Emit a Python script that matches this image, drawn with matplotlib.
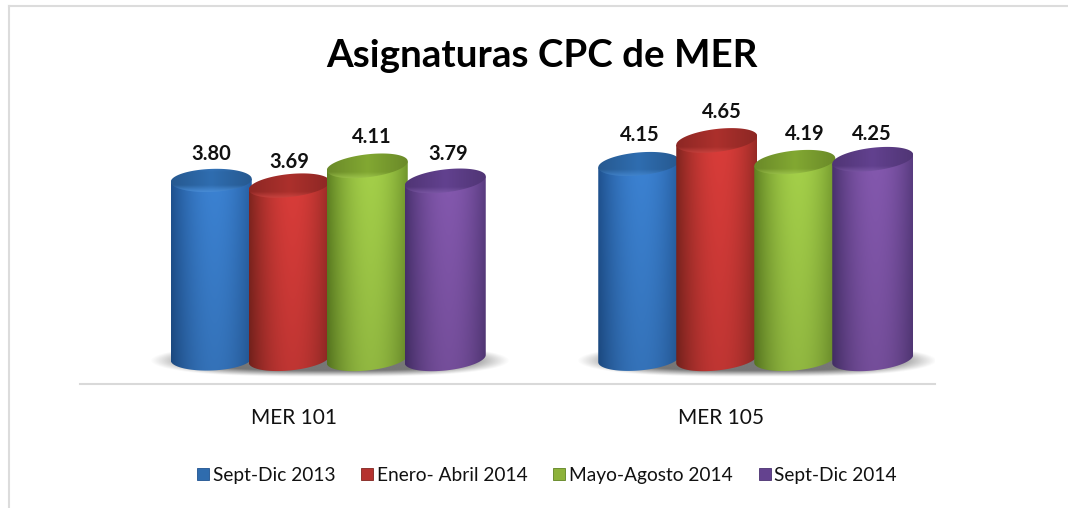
import numpy as np
import matplotlib
matplotlib.use("Agg")
import matplotlib.pyplot as plt
from matplotlib.lines import Line2D
from matplotlib.patches import Patch, Polygon

plt.rcParams['font.family'] = ['Lato', 'DejaVu Sans']

categories = ['MER 101', 'MER 105']
series_names = ['Sept-Dic 2013', 'Enero- Abril 2014', 'Mayo-Agosto 2014', 'Sept-Dic 2014']
sept_dic_2013 = [3.80, 4.15]
enero_abril_2014 = [3.69, 4.65]
mayo_agosto_2014 = [4.11, 4.19]
sept_dic_2014 = [3.79, 4.25]
series_values = [sept_dic_2013, enero_abril_2014, mayo_agosto_2014, sept_dic_2014]

bright = ['#3C83D4', '#DB3D3A', '#A6D24A', '#8559B0']
dark = ['#1F5290', '#80251F', '#5F8222', '#4A3270']
cap_col = ['#2F6DB0', '#AC302C', '#82A832', '#62418F']
rim_col = ['#4A8FDA', '#E0504C', '#B0D95C', '#8D66B6']
legend_col = ['#2F6CAE', '#B5322F', '#8DB23A', '#64428F']
tilt_px = [[3, 7], [8, 9], [9, 8], [9, 9]]
label_dx = [[0, 1], [0, 5], [5, 10], [3, -1]]
label_dy = [[26, 29], [24, 28], [29, 28], [27, 25]]

W, H = 1068, 508
fig = plt.figure(figsize=(W / 100, H / 100), dpi=100, facecolor='white')
L, R, B_PX, T_PX = 80, 935, 384, 60
ax = fig.add_axes([L / W, 1 - B_PX / H, (R - L) / W, (B_PX - T_PX) / H])
ax.set_facecolor('none')

PX_Y = 47.0
BASE_PX = 359
PX_X = (R - L) / 2.0

for s in ['top', 'left', 'right']:
    ax.spines[s].set_visible(False)
ax.spines['bottom'].set_color('#D9D9D9')
ax.spines['bottom'].set_linewidth(1.5)
ax.set_yticks([])
ax.set_xticks(range(len(categories)))
ax.set_xticklabels(categories, fontsize=15, color='#111111')
ax.tick_params(axis='x', length=0, pad=17)

bar_w = 78.0 / PX_X
group_off = 34.5 / PX_X
A_PX = 40.5
B_ELL = 11.5
a = A_PX / PX_X
b = B_ELL / PX_Y
t = np.linspace(0, 2 * np.pi, 120)


def ellipse(cx, cy, tilt):
    return np.column_stack([cx + a * np.cos(t),
                            cy + b * np.sin(t) + (tilt / 2 / PX_Y) * np.cos(t)])


# soft shadows on the floor
for i in range(len(categories)):
    cx = i + group_off + 0.004
    half = 180.0 / PX_X
    xs = np.linspace(-1, 1, 300)
    ys = np.linspace(-1, 1, 60)
    X, Y = np.meshgrid(xs, ys)
    r = (np.abs(X) ** 3 + np.abs(Y) ** 2) ** 0.5
    alpha = np.clip((1 - r) / 0.38, 0, 1) ** 1.1 * 0.8
    rgba = np.zeros(X.shape + (4,))
    rgba[..., :3] = 0.33
    rgba[..., 3] = alpha
    ax.imshow(rgba, extent=[cx - half, cx + half, -18 / PX_Y, 15 / PX_Y],
              aspect='auto', zorder=1, interpolation='bilinear')

for si, (vals, name) in enumerate(zip(series_values, series_names)):
    xs = np.arange(len(categories)) + group_off + (si - 1.5) * bar_w
    bars = ax.bar(xs, vals, width=2 * a, color=bright[si], label=name,
                  zorder=2 + 3 * si, linewidth=0)
    c0 = np.array(matplotlib.colors.to_rgb(dark[si]))
    c1 = np.array(matplotlib.colors.to_rgb(bright[si]))
    c2 = np.array(matplotlib.colors.to_rgb(cap_col[si]))
    c3 = np.array(matplotlib.colors.to_rgb(rim_col[si]))
    for ci, (x, v, bar) in enumerate(zip(xs, vals, bars)):
        tilt = tilt_px[si][ci]
        bar.set_visible(False)
        top = ellipse(x, v, tilt)
        tt = np.linspace(0, np.pi, 60)
        low = np.column_stack([x - a * np.cos(tt),
                               -b * np.sin(tt) - (tilt * 0.45 / PX_Y) * np.cos(tt)])
        high = np.column_stack([x + a * np.cos(tt),
                                v + (tilt / 2 / PX_Y) * np.cos(tt)])
        clip = Polygon(np.vstack([low, high]), closed=True, transform=ax.transData,
                       facecolor='none', edgecolor='none')
        ax.add_patch(clip)
        # shaded body: flat centre, quickly darker at the edges
        u = np.linspace(-1, 1, 160)
        prof = 1 - (np.abs(u - 0.08) / 1.08) ** 1.9
        ty = np.linspace(0.0, 1.0, 120)[:, None, None]
        grad = c0 + (c1 - c0) * prof[None, :, None]
        shade = 1.0 - 0.13 * ty
        img = np.clip(grad * shade, 0, 1)
        im = ax.imshow(img, extent=[x - a, x + a, -b - tilt / PX_Y, v + b + tilt / PX_Y],
                       aspect='auto', zorder=2 + 3 * si, interpolation='bilinear')
        im.set_clip_path(clip)
        # cap
        cap = Polygon(top, closed=True, transform=ax.transData, facecolor='none',
                      edgecolor='none')
        ax.add_patch(cap)
        v_grad = np.linspace(0, 1, 60)[:, None, None]
        h_prof = (1 - 0.18 * np.abs(np.linspace(-1, 1, 80)))[None, :, None]
        rim = np.clip((v_grad - 0.66) / 0.26, 0, 1)
        up = np.clip((0.2 - v_grad) / 0.2, 0, 1)
        base = c2 * h_prof * (1 - 0.35 * up) + c3 * 0.35 * up
        cap_img = np.clip(base * (1 - rim) + c3 * rim, 0, 1)
        cim = ax.imshow(cap_img, extent=[x - a, x + a, v - b - tilt / PX_Y, v + b + tilt / PX_Y],
                        aspect='auto', zorder=3 + 3 * si, interpolation='bilinear')
        cim.set_clip_path(cap)
        ax.annotate(f'{v:.2f}', xy=(x, v), xytext=(label_dx[si][ci] * 0.72, label_dy[si][ci] * 0.72),
                    textcoords='offset points', ha='center', va='center',
                    fontsize=14.5, fontweight='bold', color='#111111', zorder=30)

ax.set_xlim(-0.5, 1.5)
ax.set_ylim(-(B_PX - BASE_PX) / PX_Y, (BASE_PX - T_PX) / PX_Y)
ax.spines['bottom'].set_zorder(0)

fig.text(542 / W, 1 - 56 / H, 'Asignaturas CPC de MER', ha='center', va='center',
         fontsize=27.7, fontweight='bold', color='#000000')

handles = [Patch(facecolor=legend_col[i], edgecolor=dark[i], linewidth=0.6, label=series_names[i])
           for i in range(4)]
fig.legend(handles=handles, loc='center', bbox_to_anchor=(547 / W, 1 - 475.5 / H), ncol=4,
           frameon=False, fontsize=13.8, handlelength=0.62, handleheight=0.62,
           handletextpad=0.2, columnspacing=1.35, labelcolor='#111111', borderpad=0)

fig.add_artist(Line2D([9 / W, 9 / W], [0, 1 - 6 / H], color='#DCDCDC', lw=1.5))
fig.add_artist(Line2D([9 / W, 1], [1 - 6 / H, 1 - 6 / H], color='#DCDCDC', lw=1.5))

fig.savefig('out.png', dpi=100, facecolor='white')
